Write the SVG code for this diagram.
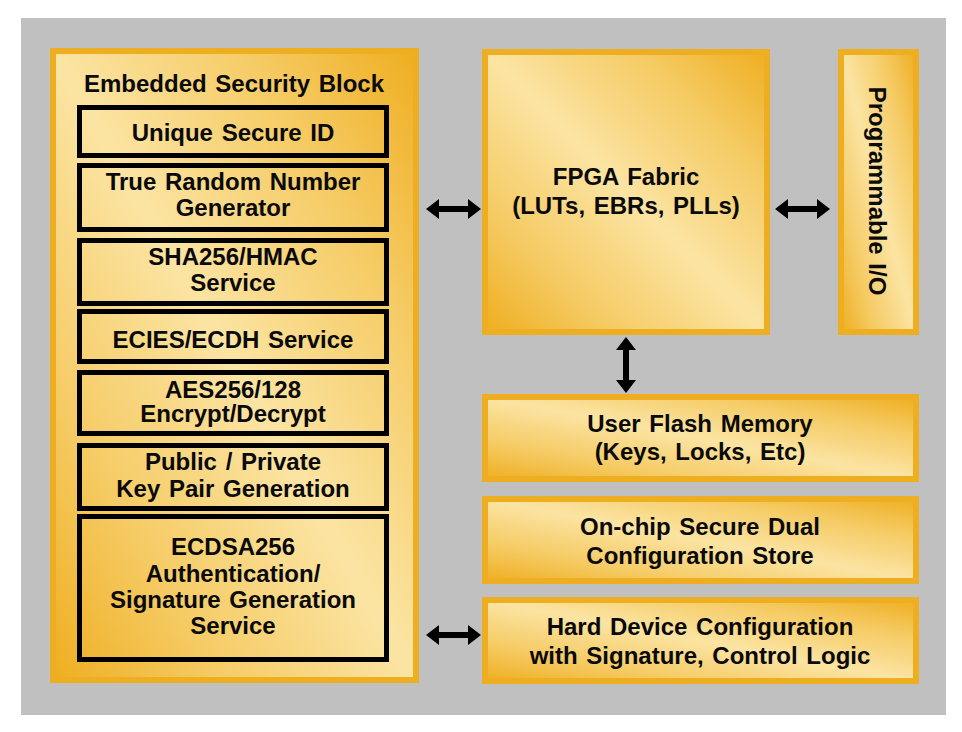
<svg xmlns="http://www.w3.org/2000/svg" width="962" height="732" viewBox="0 0 962 732">
  <defs>
    <linearGradient id="gold" x1="1" y1="0" x2="0" y2="1">
      <stop offset="0" stop-color="#EFAE20"/>
      <stop offset="0.22" stop-color="#F5CA62"/>
      <stop offset="0.5" stop-color="#FBE4A3"/>
      <stop offset="0.78" stop-color="#F5CA62"/>
      <stop offset="1" stop-color="#EFAE20"/>
    </linearGradient>
    <style>
      .blk { fill: url(#gold); stroke: #EDAE22; stroke-width: 6; }
      .sub { fill: none; stroke: #000; stroke-width: 5; }
      text { font-family: "Liberation Sans", Arial, sans-serif; font-weight: bold; font-size: 24px; word-spacing: 2px; fill: #0a0a0a; text-anchor: middle; }
      .arr { fill: #000; stroke: none; }
    </style>
  </defs>
  <rect x="0" y="0" width="962" height="732" fill="#ffffff"/>
  <rect x="21" y="18" width="925" height="697" fill="#C0C0C0"/>

  <g id="embedded-security-block">
    <rect class="blk" x="53" y="51" width="363" height="629"/>
    <text x="234" y="92">Embedded Security Block</text>
  </g>
  <g id="unique-secure-id">
    <rect class="sub" x="79.5" y="107.5" width="307" height="48"/>
    <text x="233" y="141">Unique Secure ID</text>
  </g>
  <g id="trng">
    <rect class="sub" x="79.5" y="165.5" width="307" height="64"/>
    <text x="233" y="189.5">True Random Number</text>
    <text x="233" y="215.5">Generator</text>
  </g>
  <g id="sha256">
    <rect class="sub" x="79.5" y="240.5" width="307" height="63"/>
    <text x="233" y="264.5">SHA256/HMAC</text>
    <text x="233" y="290.5">Service</text>
  </g>
  <g id="ecies">
    <rect class="sub" x="79.5" y="311.5" width="307" height="50"/>
    <text x="233" y="347.5">ECIES/ECDH  Service</text>
  </g>
  <g id="aes">
    <rect class="sub" x="79.5" y="372.5" width="307" height="61"/>
    <text x="233" y="397.5">AES256/128</text>
    <text x="233" y="422">Encrypt/Decrypt</text>
  </g>
  <g id="keypair">
    <rect class="sub" x="79.5" y="445.5" width="307" height="63"/>
    <text x="233" y="470">Public / Private</text>
    <text x="233" y="497">Key Pair Generation</text>
  </g>
  <g id="ecdsa">
    <rect class="sub" x="79.5" y="516.5" width="307" height="143"/>
    <text x="233" y="555">ECDSA256</text>
    <text x="233" y="581.5">Authentication/</text>
    <text x="233" y="608">Signature Generation</text>
    <text x="233" y="634">Service</text>
  </g>

  <g id="fpga-fabric">
    <rect class="blk" x="485" y="52" width="282" height="280"/>
    <text x="626" y="184.5">FPGA Fabric</text>
    <text x="626" y="214">(LUTs, EBRs, PLLs)</text>
  </g>
  <g id="programmable-io">
    <rect class="blk" x="841" y="52" width="75" height="280"/>
    <text transform="translate(869,191) rotate(90)" x="0" y="0">Programmable I/O</text>
  </g>
  <g id="user-flash">
    <rect class="blk" x="485" y="397" width="431" height="82"/>
    <text x="700" y="432">User Flash Memory</text>
    <text x="700" y="460">(Keys, Locks, Etc)</text>
  </g>
  <g id="dual-config">
    <rect class="blk" x="485" y="499" width="431" height="82"/>
    <text x="700" y="535">On-chip Secure Dual</text>
    <text x="700" y="563.5">Configuration Store</text>
  </g>
  <g id="hard-config">
    <rect class="blk" x="485" y="600" width="431" height="81"/>
    <text x="700" y="635">Hard Device Configuration</text>
    <text x="700" y="664">with Signature, Control Logic</text>
  </g>

  <g id="connectors">
    <path class="arr" d="M426,209 L439,199 L439,206 L468,206 L468,199 L481,209 L468,219 L468,212 L439,212 L439,219 Z"/>
    <path class="arr" d="M775,209 L788,199 L788,206 L817,206 L817,199 L830,209 L817,219 L817,212 L788,212 L788,219 Z"/>
    <path class="arr" d="M626,337 L636,350 L629,350 L629,380 L636,380 L626,393 L616,380 L623,380 L623,350 L616,350 Z"/>
    <path class="arr" d="M426,635 L439,625 L439,632 L468,632 L468,625 L481,635 L468,645 L468,638 L439,638 L439,645 Z"/>
  </g>
</svg>
